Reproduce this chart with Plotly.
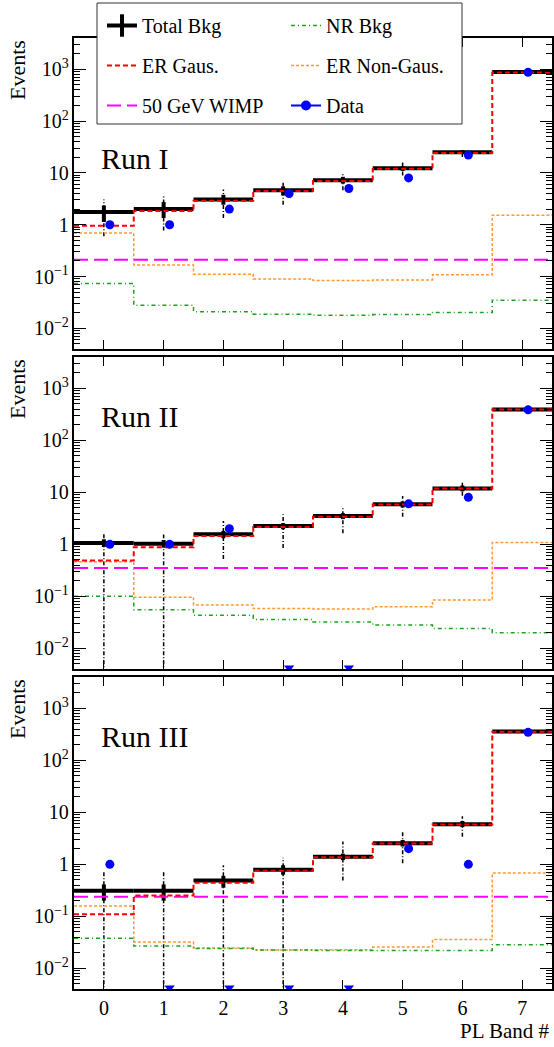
import math
import plotly.graph_objects as go

# ---------------- data ----------------
bands = [0, 1, 2, 3, 4, 5, 6, 7]
band_labels = ["0", "1", "2", "3", "4", "5", "6", "7"]
run_labels = ["Run I", "Run II", "Run III"]

# Run I
total_1 = [1.75, 2.0, 3.05, 4.6, 7.2, 12.3, 25.0, 880]
er_gaus_1 = [0.96, 1.83, 2.9, 4.45, 7.0, 12.0, 24.3, 860]
er_ngaus_1 = [0.69, 0.167, 0.111, 0.090, 0.084, 0.086, 0.108, 1.52]
nr_bkg_1 = [0.073, 0.028, 0.021, 0.0188, 0.018, 0.0185, 0.0203, 0.035]
wimp_1 = [0.21, 0.21, 0.21, 0.21, 0.21, 0.21, 0.21, 0.21]
data_1 = [1, 1, 2, 4, 5, 8, 22, 870]
sys_lo_1 = [1.13, 1.35, 2.43, 3.66, 6.2, 10.9, 23.1, 820]
sys_hi_1 = [2.35, 2.74, 3.78, 5.5, 8.4, 13.4, 27.3, 940]
stat_lo_1 = [0.6, 0.77, 1.35, 2.43, 4.6, 8.9, 20.2, 850]
stat_hi_1 = [3.07, 3.57, 4.77, 6.8, 9.9, 15.8, 29.5, 910]

# Run II
total_2 = [1.06, 1.03, 1.56, 2.25, 3.5, 5.9, 11.9, 392]
er_gaus_2 = [0.49, 0.88, 1.45, 2.15, 3.4, 5.8, 11.8, 390]
er_ngaus_2 = [0.46, 0.096, 0.068, 0.058, 0.057, 0.063, 0.085, 1.08]
nr_bkg_2 = [0.10, 0.055, 0.043, 0.036, 0.032, 0.028, 0.024, 0.020]
wimp_2 = [0.35, 0.35, 0.35, 0.35, 0.35, 0.35, 0.35, 0.35]
data_2 = [1, 1, 2, 0, 0, 6, 8, 385]
sys_lo_2 = [0.89, 0.86, 1.31, 1.95, 3.05, 5.1, 10.4, 375]
sys_hi_2 = [1.25, 1.21, 1.81, 2.55, 3.97, 6.7, 13.5, 410]
stat_lo_2 = [0.001, 0.001, 0.52, 0.85, 1.63, 3.38, 8.6, 372]
stat_hi_2 = [1.6, 1.55, 2.8, 3.8, 5.4, 8.5, 15.3, 412]

# Run III
total_3 = [0.31, 0.31, 0.49, 0.79, 1.4, 2.55, 5.9, 357]
er_gaus_3 = [0.11, 0.25, 0.44, 0.75, 1.36, 2.5, 5.85, 355]
er_ngaus_3 = [0.158, 0.032, 0.0246, 0.0224, 0.0228, 0.0257, 0.0357, 0.68]
nr_bkg_3 = [0.038, 0.027, 0.024, 0.0225, 0.022, 0.022, 0.022, 0.0285]
wimp_3 = [0.237, 0.237, 0.237, 0.237, 0.237, 0.237, 0.237, 0.237]
data_3 = [1, 0, 0, 0, 0, 2, 1, 345]
sys_lo_3 = [0.2, 0.2, 0.355, 0.63, 1.2, 2.2, 5.2, 345]
sys_hi_3 = [0.41, 0.41, 0.6, 0.96, 1.6, 2.93, 6.8, 370]
stat_lo_3 = [0.001, 0.001, 0.001, 0.001, 0.49, 1.05, 3.4, 338]
stat_hi_3 = [0.76, 0.76, 0.96, 1.34, 2.76, 4.4, 8.4, 376]

runs = [
    dict(label=run_labels[0], total=total_1, er_gaus=er_gaus_1, er_ngaus=er_ngaus_1,
         nr=nr_bkg_1, wimp=wimp_1, data=data_1, sys_lo=sys_lo_1, sys_hi=sys_hi_1,
         stat_lo=stat_lo_1, stat_hi=stat_hi_1),
    dict(label=run_labels[1], total=total_2, er_gaus=er_gaus_2, er_ngaus=er_ngaus_2,
         nr=nr_bkg_2, wimp=wimp_2, data=data_2, sys_lo=sys_lo_2, sys_hi=sys_hi_2,
         stat_lo=stat_lo_2, stat_hi=stat_hi_2),
    dict(label=run_labels[2], total=total_3, er_gaus=er_gaus_3, er_ngaus=er_ngaus_3,
         nr=nr_bkg_3, wimp=wimp_3, data=data_3, sys_lo=sys_lo_3, sys_hi=sys_hi_3,
         stat_lo=stat_lo_3, stat_hi=stat_hi_3),
]

# ---------------- style ----------------
FONT = "Liberation Serif, Times New Roman, serif"
RED = "#ff0000"
ORANGE = "#ff9933"
GREEN = "#1aa51a"
MAGENTA = "#ff00ff"
BLUE = "#0000ff"
Y_MIN, Y_MAX = 0.004, 4000.0
HALF = 0.5
DATA_SHIFT = 0.1

W, H = 554, 1047
M_L, M_R, M_T, M_B = 74, 2, 38, 58
PLOT_H = H - M_T - M_B
PLOT_BOT = H - M_B
PW = W - M_L - M_R
panels_px = [(38, 349), (357, 669), (677, 989)]

edges = [b - HALF for b in bands] + [bands[-1] + HALF]


def step(v):
    return list(v) + [v[-1]]


fig = go.Figure()

# ---------------- legend entries ----------------
def legend_entry(name, legend, group, **kw):
    fig.add_trace(go.Scatter(x=[None], y=[None], name=name, legend=legend,
                             legendgroup=group, showlegend=True, hoverinfo="skip",
                             xaxis="x", yaxis="y", **kw))

legend_entry("Total Bkg", "legend", "total", mode="lines+markers",
             line=dict(color="black", width=4),
             marker=dict(symbol="line-ns", size=16, color="black",
                         line=dict(width=4, color="black")))
legend_entry("ER Gaus.", "legend", "ergaus", mode="lines",
             line=dict(color=RED, width=2, dash="5px,3px"))
legend_entry("50 GeV WIMP", "legend", "wimp", mode="lines",
             line=dict(color=MAGENTA, width=2, dash="14px,6px"))
legend_entry("NR Bkg", "legend2", "nr", mode="lines",
             line=dict(color=GREEN, width=1.5, dash="4px,3px,1px,3px"))
legend_entry("ER Non-Gaus.", "legend2", "erngaus", mode="lines",
             line=dict(color=ORANGE, width=1.5, dash="3px,2px"))
legend_entry("Data", "legend2", "data", mode="lines+markers",
             line=dict(color=BLUE, width=2),
             marker=dict(symbol="circle", size=10, color=BLUE))

# ---------------- panels ----------------
annotations = []
layout_axes = {}
for i, run in enumerate(runs):
    n = i + 1
    xa = "x" if n == 1 else f"x{n}"
    ya = "y" if n == 1 else f"y{n}"
    common = dict(xaxis=xa, yaxis=ya, showlegend=False, hoverinfo="skip")

    # statistical (dotted) error bars
    sx, sy = [], []
    for b, lo, hi in zip(bands, run["stat_lo"], run["stat_hi"]):
        sx += [b, b, None]
        sy += [lo, hi, None]
    fig.add_trace(go.Scatter(x=sx, y=sy, mode="lines", legendgroup="total",
                             line=dict(color="black", width=1.5, dash="4px,2px,1px,2px"),
                             **common))

    # total background with systematic error (thick cross)
    fig.add_trace(go.Scatter(
        x=bands, y=run["total"], mode="markers", legendgroup="total",
        marker=dict(size=0.1, color="black"),
        error_x=dict(type="constant", value=HALF, width=0, thickness=4, color="black"),
        error_y=dict(type="data", symmetric=False,
                     array=[h - t for h, t in zip(run["sys_hi"], run["total"])],
                     arrayminus=[t - l for t, l in zip(run["total"], run["sys_lo"])],
                     width=0, thickness=4, color="black"),
        **common))

    fig.add_trace(go.Scatter(x=edges, y=step(run["er_ngaus"]), mode="lines", legendgroup="erngaus",
                             line=dict(shape="hv", color=ORANGE, width=1.5, dash="3px,2px"),
                             **common))
    fig.add_trace(go.Scatter(x=edges, y=step(run["nr"]), mode="lines", legendgroup="nr",
                             line=dict(shape="hv", color=GREEN, width=1.5, dash="4px,3px,1px,3px"),
                             **common))
    fig.add_trace(go.Scatter(x=edges, y=step(run["wimp"]), mode="lines", legendgroup="wimp",
                             line=dict(shape="hv", color=MAGENTA, width=2, dash="14px,6px"),
                             **common))
    fig.add_trace(go.Scatter(x=edges, y=step(run["er_gaus"]), mode="lines", legendgroup="ergaus",
                             line=dict(shape="hv", color=RED, width=2, dash="5px,3px"),
                             **common))

    # data
    dx = [b + DATA_SHIFT for b, d in zip(bands, run["data"]) if d > 0]
    dy = [d for d in run["data"] if d > 0]
    fig.add_trace(go.Scatter(x=dx, y=dy, mode="markers", legendgroup="data",
                             marker=dict(symbol="circle", size=9, color=BLUE), **common))
    zx = [b + DATA_SHIFT for b, d in zip(bands, run["data"]) if d <= 0]
    if zx:
        fig.add_trace(go.Scatter(x=zx, y=[Y_MIN * 1.06] * len(zx), mode="markers",
                                 legendgroup="data",
                                 marker=dict(symbol="triangle-down", size=9, color=BLUE),
                                 **common))

    top_px, bot_px = panels_px[i]
    dom = [(PLOT_BOT - bot_px) / PLOT_H, (PLOT_BOT - top_px) / PLOT_H]
    xkey = "xaxis" if n == 1 else f"xaxis{n}"
    ykey = "yaxis" if n == 1 else f"yaxis{n}"
    layout_axes[xkey] = dict(
        domain=[0, 1], anchor=ya, range=[edges[0], edges[-1]],
        tickmode="array", tickvals=bands, ticktext=band_labels,
        ticks="inside", ticklen=9, tickwidth=1, tickcolor="black",
        showline=True, linewidth=2, linecolor="black", mirror="allticks",
        showticklabels=(n == 3), tickfont=dict(family=FONT, size=20, color="black"),
        showgrid=False, zeroline=False,
    )
    layout_axes[ykey] = dict(
        type="log", domain=dom, anchor=xa,
        range=[math.log10(Y_MIN), math.log10(Y_MAX)],
        dtick=1, exponentformat="power",
        ticks="inside", ticklen=12, tickwidth=1, tickcolor="black",
        minor=dict(dtick="D1", ticks="inside", ticklen=6, tickwidth=1,
                   tickcolor="black", showgrid=False),
        showline=True, linewidth=2, linecolor="black", mirror="allticks",
        tickfont=dict(family=FONT, size=16, color="black"),
        showgrid=False, zeroline=False,
    )

    # run label
    annotations.append(dict(
        text=run["label"], xref=f"{xa} domain", yref=f"{ya} domain",
        x=0.052, y=(0.614 if n == 1 else 0.808), xanchor="left", yanchor="middle",
        showarrow=False, font=dict(family=FONT, size=30, color="black")))
    # y title
    annotations.append(dict(
        text="Events", xref="paper", yref=f"{ya} domain",
        x=(17 - M_L) / PW, y=1.0, xanchor="center", yanchor="top",
        textangle=-90, showarrow=False, font=dict(family=FONT, size=22, color="black")))

annotations.append(dict(
    text="PL Band #", xref="paper", yref="paper", x=1.0, y=(PLOT_BOT - 1031) / PLOT_H,
    xanchor="right", yanchor="middle", showarrow=False,
    font=dict(family=FONT, size=21, color="black")))

box = dict(type="rect", xref="paper", yref="paper", layer="above",
           x0=(97 - M_L) / PW, x1=(462 - M_L) / PW,
           y0=(PLOT_BOT - 124) / PLOT_H, y1=(PLOT_BOT - 3) / PLOT_H,
           fillcolor="white", line=dict(color="#333333", width=1))

legend_common = dict(xref="paper", yref="paper", xanchor="left", yanchor="top",
                     bgcolor="rgba(0,0,0,0)", borderwidth=0, tracegroupgap=11,
                     itemwidth=30, traceorder="grouped",
                     font=dict(family=FONT, size=20, color="black"))

fig.update_layout(
    width=W, height=H,
    margin=dict(l=M_L, r=M_R, t=M_T, b=M_B, autoexpand=False),
    paper_bgcolor="white", plot_bgcolor="white",
    font=dict(family=FONT, color="black"),
    annotations=annotations, shapes=[box],
    legend=dict(x=(102 - M_L) / PW, y=(PLOT_BOT - 6) / PLOT_H, **legend_common),
    legend2=dict(x=(286 - M_L) / PW, y=(PLOT_BOT - 6) / PLOT_H, **legend_common),
    hovermode=False,
    **layout_axes,
)

fig.write_html("out.html", config={"displayModeBar": False},
               post_script="document.body.style.margin='0';document.body.style.overflow='hidden';")
